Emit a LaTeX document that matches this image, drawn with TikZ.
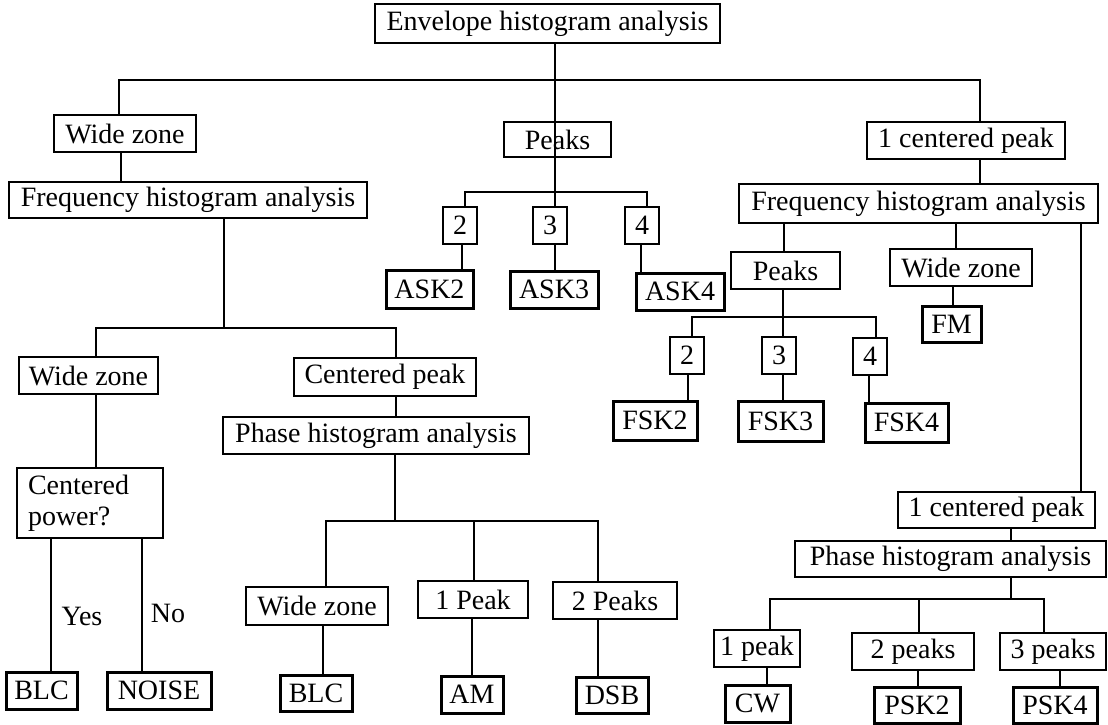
\documentclass[tikz,border=0pt]{standalone}
\usepackage{fontspec}
\setmainfont{Liberation Serif}

\begin{document}
\begin{tikzpicture}[x=1pt, y=-1pt, font=\fontsize{28}{31}\selectfont]
	\tikzstyle{box}=[draw, line width=2.2pt, inner sep=0pt]
	\tikzstyle{leaf}=[box, line width=3pt]
	\tikzstyle{wire}=[line width=2pt]

	\useasboundingbox (0,0) rectangle (1108,724);

	% envelope level
	\node (Env) [box, minimum width=345, minimum height=39] at (547.5,23.5) {Envelope histogram analysis};
	\node (WideA) [box, minimum width=142, minimum height=37] at (125,133.5) {Wide zone};
	\node (FreqA) [box, minimum width=358, minimum height=36] at (188,200) {Frequency histogram analysis};
	\node (PeaksA) [box, line width=1.6pt, minimum width=107, minimum height=35] at (557.5,139.5) {Peaks};
	\node (OneCentA) [box, minimum width=198, minimum height=37] at (966,140.5) {1 centered peak};

	% amplitude keying
	\node (TwoA) [box, minimum width=34, minimum height=37] at (460,225.5) {2};
	\node (ThreeA) [box, minimum width=34, minimum height=37] at (550,225.5) {3};
	\node (FourA) [box, minimum width=34, minimum height=37] at (642,225.5) {4};
	\node (Ask2) [leaf, minimum width=87, minimum height=38] at (429.5,289) {ASK2};
	\node (Ask3) [leaf, minimum width=88, minimum height=37] at (554,289.5) {ASK3};
	\node (Ask4) [leaf, minimum width=88, minimum height=37] at (680,291.5) {ASK4};

	% frequency level, right side
	\node (FreqB) [box, minimum width=359, minimum height=39] at (918.5,203.5) {Frequency histogram analysis};
	\node (PeaksB) [box, minimum width=109, minimum height=37] at (785.5,270.5) {Peaks};
	\node (WideD) [box, minimum width=142, minimum height=37] at (961,267.5) {Wide zone};
	\node (Fm) [leaf, minimum width=59, minimum height=36] at (951.5,324) {FM};
	\node (TwoB) [box, minimum width=34, minimum height=37] at (687,355.5) {2};
	\node (ThreeB) [box, minimum width=34, minimum height=37] at (779,355.5) {3};
	\node (FourB) [box, minimum width=34, minimum height=37] at (870,356.5) {4};
	\node (Fsk2) [leaf, minimum width=84, minimum height=39] at (655,420.5) {FSK2};
	\node (Fsk3) [leaf, minimum width=85, minimum height=40] at (780.5,421) {FSK3};
	\node (Fsk4) [leaf, minimum width=83, minimum height=39] at (906.5,422.5) {FSK4};

	% frequency level, left side
	\node (WideB) [box, minimum width=139, minimum height=37] at (88.5,375.5) {Wide zone};
	\node (CentPeak) [box, minimum width=182, minimum height=38] at (385,377) {Centered peak};
	\node (PhaseA) [box, minimum width=306, minimum height=37] at (376,435.5) {Phase histogram analysis};
	\node (CentPow) [box, line width=1.6pt, minimum width=146, minimum height=70, align=left, text width=124] at (90,503) {Centered\\power?};
	\node (BlcA) [leaf, minimum width=71, minimum height=37] at (41.5,690.5) {BLC};
	\node (Noise) [leaf, minimum width=104, minimum height=37] at (159,690.5) {NOISE};
	\node (Yes) at (82,616) {Yes};
	\node (No) at (168,613) {No};

	% phase level, left side
	\node (WideC) [box, minimum width=142, minimum height=38] at (317,606) {Wide zone};
	\node (OnePeakA) [box, minimum width=110, minimum height=37] at (473,599.5) {1 Peak};
	\node (TwoPeakA) [box, minimum width=124, minimum height=37] at (615,600.5) {2 Peaks};
	\node (BlcB) [leaf, minimum width=72, minimum height=36] at (316,693) {BLC};
	\node (Am) [leaf, minimum width=62, minimum height=37] at (472,694.5) {AM};
	\node (Dsb) [leaf, minimum width=72, minimum height=36] at (612,695) {DSB};

	% phase level, right side
	\node (OneCentB) [box, minimum width=197, minimum height=36] at (996.5,510) {1 centered peak};
	\node (PhaseB) [box, minimum width=311, minimum height=36] at (950.5,559) {Phase histogram analysis};
	\node (OnePeakB) [box, line width=1.6pt, minimum width=86, minimum height=37] at (757,648.5) {1 peak};
	\node (TwoPeakB) [box, minimum width=122, minimum height=37] at (913,651.5) {2 peaks};
	\node (ThreePeakB) [box, line width=1.6pt, minimum width=106, minimum height=37] at (1053,651.5) {3 peaks};
	\node (Cw) [leaf, minimum width=65, minimum height=37] at (757.5,703.5) {CW};
	\node (Psk2) [leaf, minimum width=86, minimum height=36] at (917,705) {PSK2};
	\node (Psk4) [leaf, minimum width=84, minimum height=36] at (1055,705) {PSK4};

	% junctions
	\coordinate (BusTopL) at (119,80);
	\coordinate (BusTopR) at (980,80);
	\coordinate (BusAskL) at (465,192);
	\coordinate (BusAskR) at (647,192);
	\coordinate (BusFreqL) at (96,328);
	\coordinate (BusFreqR) at (396,328);
	\coordinate (BusFskL) at (692,317);
	\coordinate (BusFskR) at (876,317);
	\coordinate (BusPhaseL) at (326,521);
	\coordinate (BusPhaseM) at (474,521);
	\coordinate (BusPhaseR) at (598,521);
	\coordinate (BusPskL) at (770,599);
	\coordinate (BusPskM) at (919,599);
	\coordinate (BusPskR) at (1044,599);

	\draw[wire] (Env.south -| 555,0) -- (ThreeA.north -| 555,0);
	\draw[wire] (WideA.north -| BusTopL) -- (BusTopL) -- (BusTopR) -- (OneCentA.north -| BusTopR);
	\draw[wire] (WideA.south -| 121,0) -- (FreqA.north -| 121,0);
	\draw[wire] (TwoA.north -| BusAskL) -- (BusAskL) -- (BusAskR) -- (FourA.north -| BusAskR);
	\draw[wire] (TwoA.south -| 462,0) -- (Ask2.north -| 462,0);
	\draw[wire] (ThreeA.south -| 555,0) -- (Ask3.north -| 555,0);
	\draw[wire] (FourA.south -| 641,0) -- (Ask4.north -| 641,0);

	\draw[wire] (FreqA.south -| 224,0) -- (224,328);
	\draw[wire] (WideB.north -| BusFreqL) -- (BusFreqL) -- (BusFreqR) -- (CentPeak.north -| BusFreqR);
	\draw[wire] (WideB.south -| 96,0) -- (CentPow.north -| 96,0);
	\draw[wire] (CentPow.south -| 51,0) -- (BlcA.north -| 51,0);
	\draw[wire] (CentPow.south -| 142,0) -- (Noise.north -| 142,0);
	\draw[wire] (CentPeak.south -| 396,0) -- (PhaseA.north -| 396,0);

	\draw[wire] (PhaseA.south -| 395,0) -- (395,521);
	\draw[wire] (WideC.north -| BusPhaseL) -- (BusPhaseL) -- (BusPhaseR) -- (TwoPeakA.north -| BusPhaseR);
	\draw[wire] (BusPhaseM) -- (OnePeakA.north -| BusPhaseM);
	\draw[wire] (WideC.south -| 323,0) -- (BlcB.north -| 323,0);
	\draw[wire] (OnePeakA.south -| 472,0) -- (Am.north -| 472,0);
	\draw[wire] (TwoPeakA.south -| 598,0) -- (Dsb.north -| 598,0);

	\draw[wire] (OneCentA.south -| 980,0) -- (FreqB.north -| 980,0);
	\draw[wire] (FreqB.south -| 784,0) -- (PeaksB.north -| 784,0);
	\draw[wire] (FreqB.south -| 956,0) -- (WideD.north -| 956,0);
	\draw[wire] (FreqB.south -| 1081,0) -- (OneCentB.north -| 1081,0);
	\draw[wire] (WideD.south -| 953,0) -- (Fm.north -| 953,0);
	\draw[wire] (PeaksB.south -| 783,0) -- (ThreeB.north -| 783,0);
	\draw[wire] (TwoB.north -| BusFskL) -- (BusFskL) -- (BusFskR) -- (FourB.north -| BusFskR);
	\draw[wire] (TwoB.south -| 688,0) -- (Fsk2.north -| 688,0);
	\draw[wire] (ThreeB.south -| 783,0) -- (Fsk3.north -| 783,0);
	\draw[wire] (FourB.south -| 869,0) -- (Fsk4.north -| 869,0);

	\draw[wire] (OneCentB.south -| 1011,0) -- (PhaseB.north -| 1011,0);
	\draw[wire] (PhaseB.south -| 1011,0) -- (1011,599);
	\draw[wire] (OnePeakB.north -| BusPskL) -- (BusPskL) -- (BusPskR) -- (ThreePeakB.north -| BusPskR);
	\draw[wire] (BusPskM) -- (TwoPeakB.north -| BusPskM);
	\draw[wire] (OnePeakB.south -| 767,0) -- (Cw.north -| 767,0);
	\draw[wire] (TwoPeakB.south -| 918,0) -- (Psk2.north -| 918,0);
	\draw[wire] (ThreePeakB.south -| 1060,0) -- (Psk4.north -| 1060,0);
\end{tikzpicture}
\end{document}
